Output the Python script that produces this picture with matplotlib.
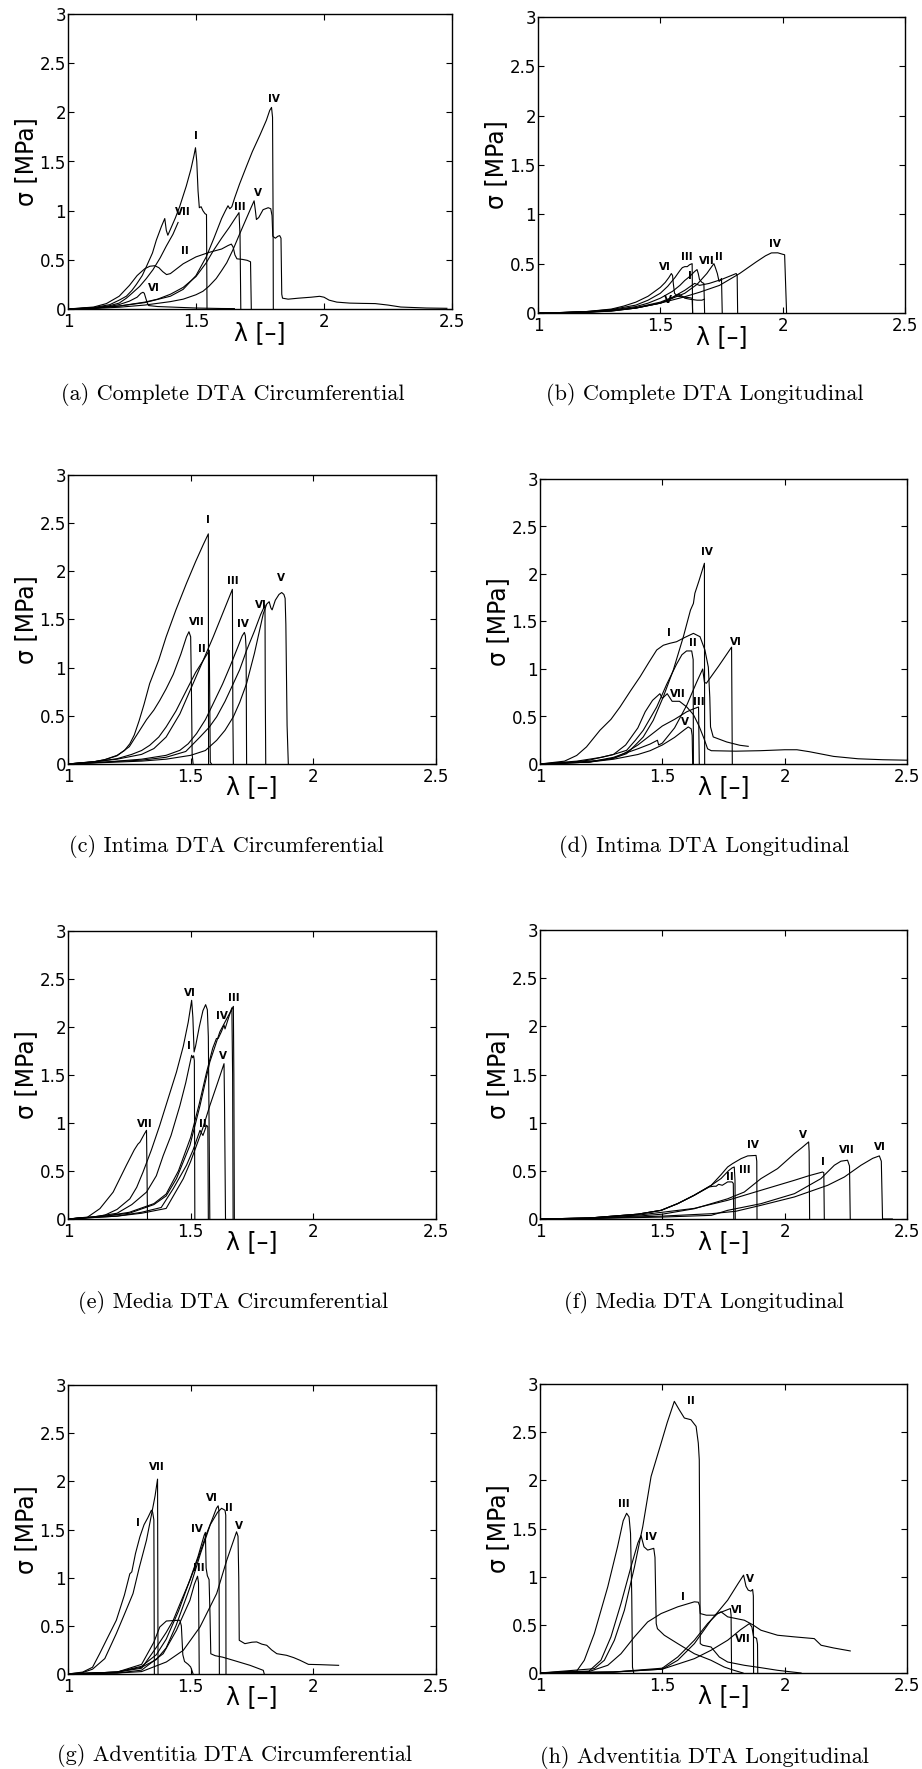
import matplotlib.pyplot as plt

plt.rcParams['font.family'] = ['DejaVu Sans']

# ---- (a) Complete DTA Circumferential : (lambda, sigma) ----
a_I = [(1.0, 0), (1.1, 0.015), (1.163, 0.044), (1.2, 0.09), (1.228, 0.13), (1.25, 0.19), (1.267, 0.25),
       (1.29, 0.34), (1.306, 0.43), (1.33, 0.57), (1.345, 0.70), (1.365, 0.84), (1.378, 0.92), (1.384, 0.80),
       (1.39, 0.75), (1.40, 0.81), (1.42, 0.93), (1.436, 1.04), (1.462, 1.25), (1.48, 1.42), (1.492, 1.56),
       (1.498, 1.64), (1.503, 1.5), (1.508, 1.2), (1.513, 1.03), (1.52, 1.04), (1.527, 1.0), (1.535, 0.97),
       (1.541, 0.96), (1.543, 0.0)]
a_II = [(1.0, 0), (1.1, 0.02), (1.15, 0.055), (1.2, 0.13), (1.24, 0.24), (1.27, 0.34), (1.3, 0.41), (1.32, 0.435),
        (1.339, 0.44), (1.355, 0.42), (1.37, 0.38), (1.385, 0.35), (1.4, 0.36), (1.42, 0.40), (1.45, 0.46),
        (1.5, 0.53), (1.55, 0.575), (1.6, 0.61), (1.625, 0.645), (1.638, 0.66), (1.645, 0.63), (1.652, 0.55),
        (1.66, 0.51), (1.68, 0.505), (1.70, 0.495), (1.713, 0.48), (1.716, 0.0)]
a_III = [(1.0, 0), (1.1, 0.01), (1.2, 0.03), (1.3, 0.07), (1.35, 0.1), (1.4, 0.15), (1.45, 0.22), (1.5, 0.33),
         (1.54, 0.47), (1.567, 0.59), (1.6, 0.72), (1.63, 0.83), (1.65, 0.91), (1.668, 0.98), (1.672, 0.75),
         (1.675, 0.0)]
a_IV = [(1.0, 0), (1.1, 0.01), (1.2, 0.03), (1.3, 0.065), (1.4, 0.13), (1.45, 0.2), (1.5, 0.34), (1.54, 0.53),
        (1.57, 0.72), (1.6, 0.92), (1.615, 1.0), (1.625, 1.05), (1.632, 1.02), (1.64, 1.04), (1.651, 1.13),
        (1.67, 1.27), (1.697, 1.45), (1.72, 1.6), (1.75, 1.77), (1.775, 1.92), (1.788, 2.02), (1.795, 2.05),
        (1.799, 1.95), (1.801, 1.0), (1.802, 0.0)]
a_V = [(1.0, 0), (1.1, 0.005), (1.2, 0.018), (1.3, 0.04), (1.4, 0.075), (1.45, 0.1), (1.5, 0.145), (1.527, 0.18),
       (1.55, 0.23), (1.579, 0.31), (1.6, 0.39), (1.62, 0.47), (1.644, 0.6), (1.67, 0.76), (1.7, 0.94),
       (1.715, 1.03), (1.727, 1.1), (1.732, 1.0), (1.736, 0.91), (1.745, 0.93), (1.762, 1.01), (1.782, 1.03),
       (1.792, 1.02), (1.797, 0.95), (1.80, 0.74), (1.81, 0.72), (1.82, 0.74), (1.827, 0.746), (1.832, 0.72),
       (1.835, 0.15), (1.838, 0.11), (1.86, 0.1), (1.9, 0.11), (1.95, 0.12), (1.983, 0.129), (2.0, 0.12),
       (2.02, 0.09), (2.05, 0.07), (2.1, 0.06), (2.15, 0.057), (2.2, 0.055), (2.25, 0.04), (2.3, 0.02),
       (2.4, 0.01), (2.48, 0.007)]
a_VI = [(1.0, 0), (1.1, 0.008), (1.15, 0.02), (1.2, 0.045), (1.24, 0.08), (1.27, 0.12), (1.285, 0.16),
        (1.293, 0.17), (1.298, 0.16), (1.305, 0.1), (1.31, 0.06), (1.315, 0.035), (1.35, 0.025), (1.4, 0.02),
        (1.45, 0.015), (1.5, 0.01), (1.6, 0.005), (1.65, 0.004)]
a_VII = [(1.0, 0), (1.1, 0.01), (1.163, 0.034), (1.2, 0.06), (1.228, 0.11), (1.25, 0.16), (1.28, 0.23),
         (1.306, 0.31), (1.332, 0.40), (1.36, 0.52), (1.384, 0.64), (1.41, 0.76), (1.43, 0.88)]
a_tags = [('I', 1.50, 1.755), ('II', 1.456, 0.586), ('III', 1.673, 1.04), ('IV', 1.805, 2.14),
          ('V', 1.742, 1.18), ('VI', 1.335, 0.213), ('VII', 1.447, 0.99)]

# ---- (b) Complete DTA Longitudinal ----
b_I = [(1, 0), (1.1, 0.004), (1.2, 0.012), (1.3, 0.03), (1.4, 0.065), (1.45, 0.1), (1.5, 0.15), (1.55, 0.22),
       (1.58, 0.28), (1.6, 0.33), (1.62, 0.37), (1.64, 0.42), (1.65, 0.44), (1.655, 0.4), (1.66, 0.34),
       (1.67, 0.31), (1.678, 0.3), (1.681, 0)]
b_II = [(1, 0), (1.2, 0.006), (1.3, 0.02), (1.4, 0.05), (1.5, 0.1), (1.6, 0.2), (1.65, 0.29), (1.69, 0.4),
        (1.71, 0.47), (1.719, 0.5), (1.725, 0.46), (1.733, 0.4), (1.74, 0.32), (1.745, 0.33), (1.75, 0.35),
        (1.753, 0)]
b_III = [(1, 0), (1.1, 0.005), (1.2, 0.015), (1.3, 0.035), (1.4, 0.08), (1.45, 0.13), (1.5, 0.2), (1.53, 0.27),
         (1.56, 0.36), (1.58, 0.43), (1.59, 0.46), (1.6, 0.47), (1.61, 0.47), (1.62, 0.49), (1.63, 0.5),
         (1.632, 0)]
b_IV = [(1, 0), (1.2, 0.01), (1.3, 0.02), (1.4, 0.05), (1.456, 0.078), (1.5, 0.1), (1.593, 0.16), (1.66, 0.21),
        (1.742, 0.28), (1.824, 0.4), (1.892, 0.518), (1.93, 0.58), (1.954, 0.609), (1.98, 0.61), (1.999, 0.596),
        (2.008, 0.59), (2.016, 0)]
b_V = [(1, 0), (1.2, 0.01), (1.3, 0.025), (1.4, 0.05), (1.5, 0.1), (1.54, 0.14), (1.56, 0.17), (1.575, 0.19),
       (1.59, 0.17), (1.6, 0.15), (1.62, 0.14), (1.65, 0.13), (1.67, 0.13), (1.68, 0.14)]
b_VI = [(1, 0), (1.1, 0.005), (1.2, 0.015), (1.3, 0.04), (1.35, 0.07), (1.4, 0.11), (1.45, 0.17), (1.5, 0.26),
        (1.52, 0.31), (1.535, 0.36), (1.545, 0.40), (1.55, 0.38), (1.553, 0.3), (1.558, 0.2), (1.57, 0.17),
        (1.6, 0.16), (1.62, 0.155), (1.63, 0.15), (1.632, 0)]
b_VII = [(1, 0), (1.1, 0.003), (1.2, 0.01), (1.3, 0.025), (1.4, 0.055), (1.5, 0.11), (1.55, 0.16), (1.6, 0.23),
         (1.64, 0.3), (1.66, 0.28), (1.7, 0.3), (1.75, 0.34), (1.79, 0.38), (1.81, 0.4), (1.814, 0.38),
         (1.816, 0)]
b_tags = [('I', 1.62, 0.37), ('II', 1.74, 0.57), ('III', 1.608, 0.57), ('IV', 1.97, 0.7),
          ('V', 1.53, 0.13), ('VI', 1.52, 0.47), ('VII', 1.69, 0.53)]

# ---- (c) Intima DTA Circumferential ----
c_I = [(1, 0), (1.1, 0.02), (1.15, 0.045), (1.2, 0.09), (1.23, 0.14), (1.252, 0.21), (1.27, 0.3),
       (1.29, 0.45), (1.31, 0.62), (1.333, 0.836), (1.37, 1.08), (1.40, 1.32), (1.44, 1.6), (1.483, 1.876),
       (1.52, 2.1), (1.55, 2.27), (1.572, 2.389), (1.573, 0)]
c_II = [(1, 0), (1.13, 0.03), (1.2, 0.055), (1.26, 0.1), (1.3, 0.14), (1.333, 0.194), (1.37, 0.28),
        (1.40, 0.385), (1.44, 0.55), (1.483, 0.766), (1.52, 0.95), (1.55, 1.07), (1.576, 1.18), (1.578, 0.6),
        (1.58, 0.02), (1.585, 0)]
c_III = [(1, 0), (1.13, 0.03), (1.2, 0.05), (1.3, 0.1), (1.35, 0.16), (1.40, 0.28), (1.456, 0.52),
         (1.51, 0.836), (1.55, 1.07), (1.592, 1.32), (1.63, 1.56), (1.67, 1.813), (1.672, 0.5), (1.674, 0)]
c_IV = [(1, 0), (1.15, 0.02), (1.3, 0.05), (1.4, 0.09), (1.456, 0.142), (1.49, 0.21), (1.524, 0.316),
        (1.56, 0.46), (1.592, 0.628), (1.63, 0.83), (1.66, 1.01), (1.69, 1.2), (1.71, 1.33), (1.719, 1.366),
        (1.723, 1.33), (1.726, 1.2), (1.728, 0)]
c_V = [(1, 0), (1.15, 0.015), (1.3, 0.03), (1.4, 0.05), (1.5, 0.09), (1.56, 0.14), (1.606, 0.246),
       (1.64, 0.35), (1.674, 0.49), (1.7, 0.64), (1.728, 0.836), (1.76, 1.15), (1.796, 1.56), (1.81, 1.66),
       (1.82, 1.685), (1.827, 1.62), (1.832, 1.6), (1.845, 1.7), (1.86, 1.76), (1.871, 1.78), (1.88, 1.76),
       (1.885, 1.72), (1.888, 1.45), (1.893, 0.4), (1.898, 0)]
c_VI = [(1, 0), (1.15, 0.02), (1.3, 0.04), (1.4, 0.07), (1.48, 0.13), (1.538, 0.28), (1.575, 0.38),
        (1.606, 0.49), (1.64, 0.65), (1.674, 0.836), (1.7, 0.98), (1.728, 1.18), (1.76, 1.38), (1.785, 1.55),
        (1.803, 1.65), (1.804, 0.8), (1.806, 0)]
c_VII = [(1, 0), (1.1, 0.02), (1.15, 0.045), (1.2, 0.085), (1.25, 0.18), (1.28, 0.3), (1.32, 0.46),
         (1.35, 0.56), (1.374, 0.66), (1.4, 0.78), (1.429, 0.93), (1.46, 1.14), (1.483, 1.32), (1.493, 1.373),
         (1.5, 1.32), (1.503, 0.8), (1.506, 0.1), (1.51, 0)]
c_tags = [('I', 1.569, 2.528), ('II', 1.544, 1.19), ('III', 1.67, 1.904), ('IV', 1.715, 1.453),
          ('V', 1.868, 1.935), ('VI', 1.785, 1.65), ('VII', 1.524, 1.477)]

# ---- (d) Intima DTA Longitudinal ----
d_I = [(1, 0), (1.1, 0.03), (1.15, 0.09), (1.19, 0.18), (1.245, 0.355), (1.29, 0.47), (1.327, 0.6),
       (1.37, 0.77), (1.409, 0.918), (1.445, 1.07), (1.477, 1.2), (1.504, 1.25), (1.53, 1.27), (1.558, 1.287),
       (1.59, 1.33), (1.627, 1.375), (1.654, 1.34), (1.674, 1.2), (1.688, 1.02), (1.694, 0.7), (1.697, 0.39),
       (1.708, 0.285), (1.763, 0.232), (1.817, 0.197), (1.851, 0.186)]
d_II = [(1, 0), (1.15, 0.03), (1.25, 0.07), (1.3, 0.1), (1.354, 0.144), (1.39, 0.25), (1.422, 0.355),
        (1.477, 0.6), (1.518, 0.84), (1.558, 1.05), (1.58, 1.15), (1.599, 1.19), (1.62, 1.19), (1.626, 1.1),
        (1.627, 0)]
d_III = [(1, 0), (1.2, 0.02), (1.3, 0.06), (1.35, 0.12), (1.4, 0.2), (1.45, 0.3), (1.5, 0.4), (1.55, 0.47),
         (1.6, 0.55), (1.627, 0.58), (1.648, 0.6), (1.651, 0)]
d_IV = [(1, 0), (1.15, 0.02), (1.25, 0.04), (1.3, 0.06), (1.354, 0.109), (1.39, 0.2), (1.422, 0.285),
        (1.463, 0.46), (1.504, 0.707), (1.545, 0.99), (1.586, 1.34), (1.615, 1.62), (1.627, 1.69),
        (1.633, 1.797), (1.65, 1.93), (1.672, 2.113), (1.673, 0)]
d_V = [(1, 0), (1.2, 0.02), (1.3, 0.05), (1.4, 0.1), (1.45, 0.14), (1.5, 0.2), (1.55, 0.28), (1.59, 0.36),
       (1.606, 0.39), (1.618, 0.37), (1.622, 0.3), (1.624, 0)]
d_VI = [(1, 0), (1.2, 0.02), (1.3, 0.07), (1.4, 0.16), (1.45, 0.21), (1.48, 0.25), (1.485, 0.2), (1.5, 0.22),
        (1.55, 0.38), (1.6, 0.62), (1.64, 0.86), (1.665, 1.0), (1.672, 0.86), (1.68, 0.85), (1.73, 1.03),
        (1.783, 1.23), (1.786, 0)]
d_VII = [(1, 0), (1.1, 0.01), (1.2, 0.04), (1.3, 0.1), (1.35, 0.2), (1.4, 0.38), (1.43, 0.55), (1.46, 0.67),
         (1.49, 0.74), (1.5, 0.69), (1.52, 0.74), (1.54, 0.66), (1.57, 0.66), (1.6, 0.6), (1.627, 0.52),
         (1.65, 0.4), (1.67, 0.27), (1.685, 0.16), (1.7, 0.14), (1.8, 0.135), (1.9, 0.14), (2.0, 0.15),
         (2.05, 0.15), (2.1, 0.13), (2.2, 0.08), (2.3, 0.055), (2.4, 0.045), (2.5, 0.04)]
d_tags = [('I', 1.529, 1.375), ('II', 1.624, 1.276), ('III', 1.651, 0.654), ('IV', 1.683, 2.236),
          ('V', 1.594, 0.443), ('VI', 1.801, 1.287), ('VII', 1.563, 0.735)]

# ---- (e) Media DTA Circumferential ----
e_I = [(1, 0), (1.1, 0.02), (1.2, 0.06), (1.26, 0.15), (1.32, 0.28), (1.36, 0.45), (1.388, 0.66), (1.42, 0.87),
       (1.456, 1.18), (1.48, 1.42), (1.504, 1.705), (1.508, 1.68), (1.512, 1.7), (1.515, 1.65), (1.517, 0)]
e_II = [(1, 0), (1.2, 0.03), (1.3, 0.07), (1.38, 0.12), (1.429, 0.316), (1.483, 0.56), (1.51, 0.72),
        (1.538, 0.924), (1.55, 0.87), (1.565, 0.976), (1.57, 0.96), (1.572, 0)]
e_III = [(1, 0), (1.15, 0.03), (1.25, 0.06), (1.35, 0.15), (1.4, 0.24), (1.442, 0.42), (1.497, 0.767),
         (1.538, 1.18), (1.578, 1.635), (1.619, 1.95), (1.65, 2.1), (1.674, 2.215), (1.676, 1.5), (1.678, 0)]
e_IV = [(1, 0), (1.15, 0.03), (1.25, 0.07), (1.35, 0.16), (1.4, 0.26), (1.45, 0.5), (1.5, 0.85), (1.535, 1.2),
        (1.565, 1.53), (1.59, 1.78), (1.605, 1.88), (1.612, 1.88), (1.625, 1.95), (1.636, 2.02), (1.64, 1.98),
        (1.655, 2.1), (1.668, 2.2), (1.671, 1.5), (1.673, 0)]
e_V = [(1, 0), (1.2, 0.03), (1.3, 0.06), (1.4, 0.11), (1.47, 0.42), (1.5, 0.6), (1.524, 0.767), (1.55, 0.95),
       (1.578, 1.18), (1.61, 1.42), (1.636, 1.618), (1.638, 1.2), (1.642, 0)]
e_VI = [(1, 0), (1.1, 0.02), (1.15, 0.04), (1.2, 0.1), (1.252, 0.21), (1.28, 0.33), (1.306, 0.49),
        (1.34, 0.72), (1.374, 0.976), (1.41, 1.27), (1.442, 1.53), (1.47, 1.8), (1.49, 2.05), (1.504, 2.278),
        (1.509, 2.1), (1.514, 1.74), (1.52, 1.8), (1.535, 2.0), (1.55, 2.17), (1.561, 2.233), (1.568, 2.18),
        (1.572, 1.9), (1.575, 1.0), (1.578, 0)]
e_VII = [(1, 0), (1.08, 0.02), (1.13, 0.108), (1.184, 0.28), (1.238, 0.56), (1.27, 0.72), (1.285, 0.78),
         (1.293, 0.8), (1.31, 0.88), (1.32, 0.924), (1.322, 0.5), (1.324, 0)]
e_tags = [('I', 1.494, 1.802), ('II', 1.551, 0.993), ('III', 1.674, 2.302), ('IV', 1.626, 2.111),
          ('V', 1.633, 1.698), ('VI', 1.497, 2.358), ('VII', 1.313, 0.993)]

# ---- (f) Media DTA Longitudinal ----
f_I = [(1, 0), (1.2, 0.01), (1.4, 0.04), (1.5, 0.07), (1.63, 0.11), (1.767, 0.194), (1.903, 0.298),
       (2.04, 0.402), (2.1, 0.45), (2.155, 0.488), (2.16, 0.48), (2.162, 0)]
f_II = [(1, 0), (1.2, 0.01), (1.4, 0.05), (1.495, 0.09), (1.563, 0.16), (1.63, 0.246), (1.692, 0.333),
        (1.71, 0.34), (1.72, 0.34), (1.73, 0.36), (1.745, 0.35), (1.767, 0.385), (1.785, 0.385), (1.79, 0.37),
        (1.792, 0)]
f_III = [(1, 0), (1.2, 0.01), (1.4, 0.05), (1.495, 0.09), (1.563, 0.16), (1.63, 0.246), (1.7, 0.35),
         (1.74, 0.42), (1.77, 0.5), (1.785, 0.53), (1.794, 0.54), (1.797, 0.4), (1.798, 0)]
f_IV = [(1, 0), (1.2, 0.01), (1.4, 0.05), (1.495, 0.09), (1.563, 0.16), (1.63, 0.246), (1.7, 0.35),
        (1.74, 0.46), (1.767, 0.54), (1.787, 0.575), (1.822, 0.627), (1.849, 0.655), (1.883, 0.66),
        (1.886, 0.6), (1.887, 0)]
f_V = [(1, 0), (1.2, 0.008), (1.4, 0.03), (1.5, 0.05), (1.631, 0.107), (1.767, 0.21), (1.835, 0.28),
       (1.903, 0.419), (1.971, 0.523), (2.04, 0.679), (2.07, 0.74), (2.098, 0.8), (2.1, 0.7), (2.102, 0)]
f_VI = [(1, 0), (1.2, 0.005), (1.5, 0.03), (1.7, 0.055), (1.8, 0.08), (1.903, 0.142), (2.04, 0.229),
        (2.176, 0.35), (2.244, 0.436), (2.312, 0.558), (2.36, 0.63), (2.387, 0.655), (2.395, 0.6), (2.4, 0.0),
        (2.44, 0.0)]
f_VII = [(1, 0), (1.2, 0.005), (1.5, 0.02), (1.7, 0.038), (1.767, 0.09), (1.903, 0.159), (2.04, 0.263),
         (2.148, 0.419), (2.203, 0.558), (2.23, 0.6), (2.257, 0.61), (2.265, 0.55), (2.268, 0)]
f_tags = [('I', 2.158, 0.592), ('II', 1.778, 0.436), ('III', 1.839, 0.506), ('IV', 1.872, 0.773),
          ('V', 2.074, 0.876), ('VI', 2.39, 0.748), ('VII', 2.253, 0.72)]

# ---- (g) Adventitia DTA Circumferential ----
g_I = [(1, 0), (1.06, 0.02), (1.1, 0.07), (1.129, 0.211), (1.16, 0.37), (1.197, 0.558), (1.23, 0.82),
       (1.252, 1.04), (1.26, 1.06), (1.275, 1.25), (1.293, 1.424), (1.31, 1.55), (1.325, 1.62), (1.34, 1.70),
       (1.345, 1.68), (1.35, 1.6), (1.352, 0)]
g_II = [(1, 0), (1.2, 0.02), (1.3, 0.07), (1.36, 0.15), (1.4, 0.27), (1.44, 0.5), (1.5, 0.92), (1.54, 1.25),
        (1.58, 1.55), (1.61, 1.68), (1.626, 1.72), (1.64, 1.7), (1.643, 1.65), (1.644, 0)]
g_III = [(1, 0), (1.2, 0.01), (1.3, 0.04), (1.388, 0.211), (1.442, 0.454), (1.497, 0.765), (1.515, 0.93),
         (1.528, 1.015), (1.532, 0.95), (1.535, 0)]
g_IV = [(1, 0), (1.2, 0.02), (1.3, 0.08), (1.36, 0.2), (1.4, 0.36), (1.45, 0.65), (1.5, 1.0), (1.53, 1.22),
        (1.555, 1.44), (1.56, 1.47), (1.563, 1.1), (1.568, 1.02), (1.575, 0.98), (1.579, 0.6), (1.582, 0.21),
        (1.6, 0.19), (1.63, 0.175), (1.674, 0.142), (1.742, 0.09), (1.796, 0.038), (1.8, 0)]
g_V = [(1, 0), (1.2, 0.01), (1.3, 0.025), (1.401, 0.125), (1.47, 0.246), (1.538, 0.488), (1.606, 0.835),
       (1.647, 1.18), (1.67, 1.35), (1.687, 1.476), (1.693, 1.43), (1.696, 1.0), (1.698, 0.35), (1.721, 0.315),
       (1.75, 0.33), (1.769, 0.333), (1.79, 0.31), (1.81, 0.298), (1.83, 0.25), (1.851, 0.211),
       (1.891, 0.194), (1.92, 0.17), (1.946, 0.142), (1.98, 0.1), (2.028, 0.097), (2.103, 0.09)]
g_VI = [(1, 0), (1.2, 0.02), (1.3, 0.06), (1.361, 0.28), (1.4, 0.43), (1.429, 0.558), (1.46, 0.75),
        (1.497, 0.973), (1.53, 1.2), (1.565, 1.458), (1.59, 1.62), (1.605, 1.72), (1.612, 1.746), (1.615, 1.7),
        (1.617, 0)]
g_VII = [(1, 0), (1.06, 0.015), (1.1, 0.05), (1.15, 0.16), (1.197, 0.42), (1.23, 0.62), (1.265, 0.835),
         (1.29, 1.1), (1.32, 1.39), (1.34, 1.65), (1.355, 1.85), (1.365, 2.023), (1.367, 0)]
g_VIII = [(1, 0), (1.2, 0.02), (1.3, 0.1), (1.35, 0.33), (1.374, 0.488), (1.401, 0.55), (1.43, 0.555),
          (1.456, 0.558), (1.462, 0.5), (1.468, 0.2), (1.475, 0.13), (1.49, 0.1), (1.5, 0.073), (1.51, 0)]
g_tags = [('I', 1.287, 1.569), ('II', 1.655, 1.718), ('III', 1.535, 1.105), ('IV', 1.524, 1.51),
          ('V', 1.697, 1.538), ('VI', 1.588, 1.832), ('VII', 1.363, 2.151)]

# ---- (h) Adventitia DTA Longitudinal ----
h_I = [(1, 0), (1.2, 0.015), (1.277, 0.08), (1.331, 0.2), (1.386, 0.375), (1.44, 0.53), (1.495, 0.617),
       (1.563, 0.687), (1.631, 0.739), (1.647, 0.735), (1.652, 0.7), (1.655, 0.617), (1.68, 0.6),
       (1.713, 0.6), (1.74, 0.635), (1.767, 0.583), (1.835, 0.548), (1.87, 0.5), (1.903, 0.444),
       (1.971, 0.392), (2.04, 0.375), (2.121, 0.357), (2.149, 0.288), (2.2, 0.26), (2.268, 0.229)]
h_II = [(1, 0), (1.222, 0.045), (1.263, 0.132), (1.304, 0.34), (1.345, 0.652), (1.386, 1.1), (1.42, 1.52),
        (1.454, 2.04), (1.495, 2.386), (1.52, 2.6), (1.549, 2.82), (1.569, 2.733), (1.59, 2.647), (1.617, 2.629),
        (1.638, 2.56), (1.647, 2.386), (1.651, 2.213), (1.655, 0.305), (1.665, 0.288), (1.699, 0.27),
        (1.733, 0.166), (1.767, 0.114), (1.835, 0.08), (1.903, 0.055), (1.971, 0.028), (2.067, 0.0)]
h_III = [(1, 0), (1.15, 0.02), (1.181, 0.132), (1.222, 0.409), (1.277, 0.895), (1.317, 1.311), (1.34, 1.58),
         (1.354, 1.658), (1.364, 1.62), (1.37, 1.45), (1.375, 0.8), (1.378, 0.06), (1.383, 0)]
h_IV = [(1, 0), (1.2, 0.02), (1.249, 0.132), (1.29, 0.375), (1.331, 0.721), (1.372, 1.103), (1.4, 1.35),
        (1.413, 1.426), (1.425, 1.31), (1.44, 1.276), (1.465, 1.294), (1.47, 1.2), (1.475, 0.513), (1.48, 0.46),
        (1.508, 0.392), (1.563, 0.305), (1.631, 0.2), (1.699, 0.132), (1.753, 0.062), (1.79, 0.03), (1.83, 0)]
h_V = [(1, 0), (1.3, 0.01), (1.5, 0.04), (1.563, 0.132), (1.631, 0.305), (1.699, 0.548), (1.767, 0.756),
       (1.81, 0.93), (1.832, 1.016), (1.842, 0.9), (1.851, 0.86), (1.862, 0.85), (1.869, 0.867), (1.872, 0.8),
       (1.873, 0)]
h_VI = [(1, 0), (1.3, 0.01), (1.5, 0.05), (1.563, 0.166), (1.631, 0.34), (1.685, 0.513), (1.726, 0.617),
        (1.778, 0.669), (1.781, 0.6), (1.783, 0)]
h_VII = [(1, 0), (1.3, 0.01), (1.5, 0.04), (1.631, 0.149), (1.699, 0.236), (1.767, 0.34), (1.82, 0.45),
         (1.856, 0.513), (1.866, 0.479), (1.873, 0.375), (1.885, 0.36), (1.889, 0.3), (1.89, 0)]
h_tags = [('I', 1.586, 0.791), ('II', 1.617, 2.82), ('III', 1.342, 1.755), ('IV', 1.454, 1.408),
          ('V', 1.857, 0.975), ('VI', 1.805, 0.652), ('VII', 1.828, 0.357)]

captions = ['(a) Complete DTA Circumferential', '(b) Complete DTA Longitudinal',
            '(c) Intima DTA Circumferential', '(d) Intima DTA Longitudinal',
            '(e) Media DTA Circumferential', '(f) Media DTA Longitudinal',
            '(g) Adventitia DTA Circumferential', '(h) Adventitia DTA Longitudinal']

W, H = 922, 1769
fig = plt.figure(figsize=(W / 100, H / 100), dpi=100)

# axes boxes in pixels: left, right, top, bottom ; caption centre
boxes = [(68, 452, 14, 309), (538, 905, 17, 313), (68, 436, 475, 764), (540, 907, 479, 764),
         (68, 436, 931, 1219), (540, 907, 930, 1219), (68, 436, 1385, 1674), (540, 907, 1384, 1673)]
cap_pos = [(233, 394), (705, 395), (226, 847), (704, 847), (233, 1302), (704, 1302), (234, 1755), (704, 1757)]

panels = [
    ([a_I, a_II, a_III, a_IV, a_V, a_VI, a_VII], a_tags),
    ([b_I, b_II, b_III, b_IV, b_V, b_VI, b_VII], b_tags),
    ([c_I, c_II, c_III, c_IV, c_V, c_VI, c_VII], c_tags),
    ([d_I, d_II, d_III, d_IV, d_V, d_VI, d_VII], d_tags),
    ([e_I, e_II, e_III, e_IV, e_V, e_VI, e_VII], e_tags),
    ([f_I, f_II, f_III, f_IV, f_V, f_VI, f_VII], f_tags),
    ([g_I, g_II, g_III, g_IV, g_V, g_VI, g_VII, g_VIII], g_tags),
    ([h_I, h_II, h_III, h_IV, h_V, h_VI, h_VII], h_tags),
]

for k, (curves, tags) in enumerate(panels):
    l, r, t, b = boxes[k]
    ax = fig.add_axes([l / W, 1 - b / H, (r - l) / W, (b - t) / H])
    for pts in curves:
        lam = [p[0] for p in pts]
        sig = [p[1] for p in pts]
        ax.plot(lam, sig, color='black', lw=0.8)
    for name, x, y in tags:
        ax.text(x, y, name, ha='center', va='center', fontsize=7.5, fontweight='bold')
    ax.set_xlim(1, 2.5)
    ax.set_ylim(0, 3)
    ax.set_xticks([1, 1.5, 2, 2.5])
    ax.set_xticklabels(['1', '1.5', '2', '2.5'])
    ax.set_yticks([0, 0.5, 1, 1.5, 2, 2.5, 3])
    ax.set_yticklabels(['0', '0.5', '1', '1.5', '2', '2.5', '3'])
    ax.tick_params(direction='in', top=True, right=True, length=4, width=0.8, labelsize=12)
    ax.tick_params(axis='y', pad=1.5)
    ax.tick_params(axis='x', pad=3)
    for s in ax.spines.values():
        s.set_linewidth(1.0)
    ax.set_xlabel('λ [–]', fontsize=17)
    ax.xaxis.set_label_coords(0.5, -0.04)
    ax.set_ylabel('σ [MPa]', fontsize=17, va='center')
    ax.yaxis.set_label_coords(-42 / (r - l), 0.5)
    cx, cy = cap_pos[k]
    fig.text(cx / W, 1 - cy / H, captions[k], ha='center', va='center', family='cmr10', fontsize=16)

fig.savefig('out.png', dpi=100)
